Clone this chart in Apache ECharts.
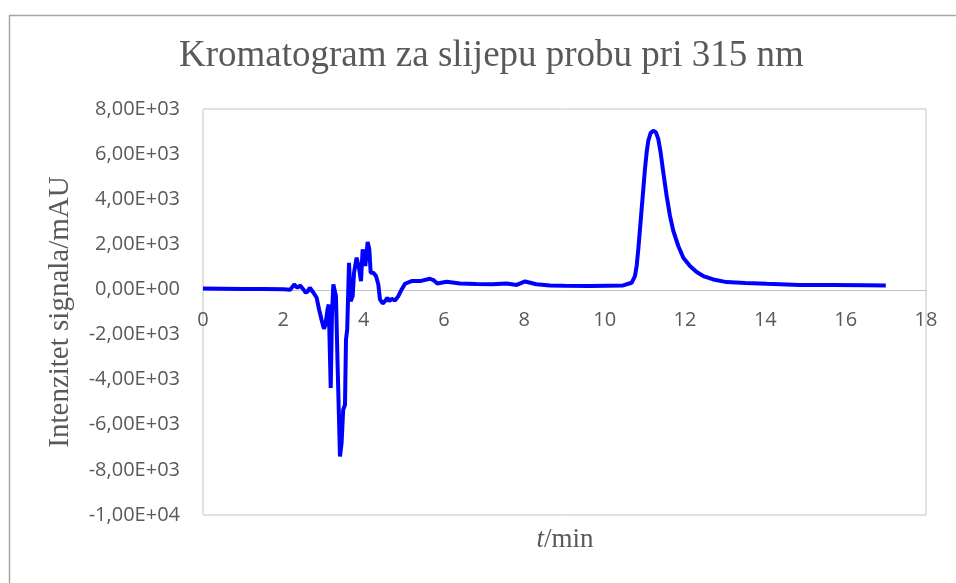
<!DOCTYPE html>
<html>
<head>
<meta charset="utf-8">
<script src="https://cdn.jsdelivr.net/npm/echarts@6/dist/echarts.min.js"></script>
<style>
html,body{margin:0;padding:0;background:#fff;}
#main{width:956px;height:583px;}
</style>
</head>
<body>
<div id="main"></div>
<script>
// retention time (min)
var time=[0,0.5,1.0,1.5,2.0,2.17,2.23,2.27,2.35,2.42,2.5,2.56,2.61,2.66,2.75,2.83,2.89,2.95,3.01,3.05,3.1,3.13,3.18,3.21,3.245,3.28,3.31,3.35,3.41,3.45,3.49,3.535,3.56,3.59,3.635,3.676,3.726,3.76,3.825,3.89,3.933,3.975,4.008,4.041,4.099,4.141,4.174,4.24,4.307,4.365,4.406,4.473,4.531,4.589,4.638,4.697,4.78,4.863,4.946,5.029,5.195,5.402,5.651,5.734,5.834,6.066,6.4,6.8,7.2,7.56,7.81,8.02,8.3,8.64,9.0,9.634,10.46,10.671,10.754,10.796,10.837,10.879,10.92,10.962,11.003,11.045,11.086,11.144,11.211,11.277,11.335,11.393,11.46,11.543,11.626,11.709,11.833,11.958,12.123,12.29,12.455,12.704,13.036,13.5,14.03,14.86,15.69,16.5,17.0];
// signal (mAU)
var signal=[40,35,25,15,5,-15,118,222,74,178,0,-148,-74,74,-148,-370,-889,-1333,-1748,-1556,-889,-667,-4370,-1185,222,148,-296,-3259,-7407,-6815,-5333,-5111,-2222,-1778,1185,-519,-296,741,1407,889,370,1778,1852,1037,2104,1778,741,741,593,222,-444,-622,-519,-370,-519,-415,-489,-296,0,252,370,370,474,415,267,341,267,240,230,260,200,355,230,170,160,148,178,296,593,1037,1778,2667,3556,4444,5333,6074,6593,6933,7037,6963,6667,6074,5185,4148,3259,2593,1926,1407,1037,770,593,444,326,290,250,200,200,190,178];
var xTicks={min:0,max:18,step:2};
var yTicks={min:-10000,max:8000,step:2000};

var data=[];
for(let i=0;i<time.length;i++){
    data.push([time[i],signal[i]]);
}

function sci(v){
    var s=v.toExponential(2).replace('.',',');
    var m=s.match(/^(-?[\d,]+)e([+-])(\d+)$/);
    var e=m[3].length<2?'0'+m[3]:m[3];
    return m[1]+'E'+m[2]+e;
}

var chart=echarts.init(document.getElementById("main"));
// x axis sits on the zero line: plot height 406px, zero is 225px above bottom
var option={
    animation:false,
    backgroundColor:'#fff',
    title:{
        text:'Kromatogram za slijepu probu pri 315 nm',
        left:174,
        top:33,
        textStyle:{
            fontFamily:'Liberation Serif',
            fontWeight:'normal',
            fontSize:37,
            color:'#595959'
        }
    },
    grid:{
        left:203,
        right:30,
        top:109,
        bottom:68,
        show:true,
        borderColor:'#c4c4c4',
        borderWidth:1
    },
    xAxis:{
        type:'value',
        min:xTicks.min,
        max:xTicks.max,
        interval:xTicks.step,
        position:'bottom',
        offset:-225,
        axisLine:{onZero:false,lineStyle:{color:'#c4c4c4',width:1}},
        axisTick:{show:false},
        splitLine:{show:false},
        axisLabel:{
            margin:20,
            fontFamily:'Open Sans',
            fontSize:20,
            color:'#595959'
        }
    },
    yAxis:{
        type:'value',
        min:yTicks.min,
        max:yTicks.max,
        interval:yTicks.step,
        axisLine:{show:false},
        axisTick:{show:false},
        splitLine:{show:false},
        axisLabel:{
            margin:23,
            fontFamily:'Open Sans',
            fontSize:20,
            color:'#595959',
            formatter:sci
        }
    },
    graphic:[
        {
            type:'rect',
            left:7,top:13,silent:true,
            shape:{width:1000,height:1000},
            style:{fill:'none',stroke:'#a6a6a6',lineWidth:1.5}
        },
        {
            type:'text',
            x:60,y:312,rotation:Math.PI/2,
            style:{
                text:'Intenzitet signala/mAU',
                fontFamily:'Liberation Serif',
                fontSize:29,
                fill:'#595959',
                align:'center',
                verticalAlign:'middle'
            }
        },
        {
            type:'text',
            x:565,y:540,
            style:{
                text:'{i|t}/min',
                rich:{i:{fontStyle:'italic',fontFamily:'Liberation Serif',fontSize:27,fill:'#595959'}},
                fontFamily:'Liberation Serif',
                fontSize:27,
                fill:'#595959',
                align:'center',
                verticalAlign:'middle'
            }
        }
    ],
    series:[{
        type:'line',
        data:data,
        showSymbol:false,
        smooth:false,
        lineStyle:{color:'#0000ff',width:4},
        itemStyle:{color:'#0000ff'}
    }]
};
chart.setOption(option);
</script>
</body>
</html>
